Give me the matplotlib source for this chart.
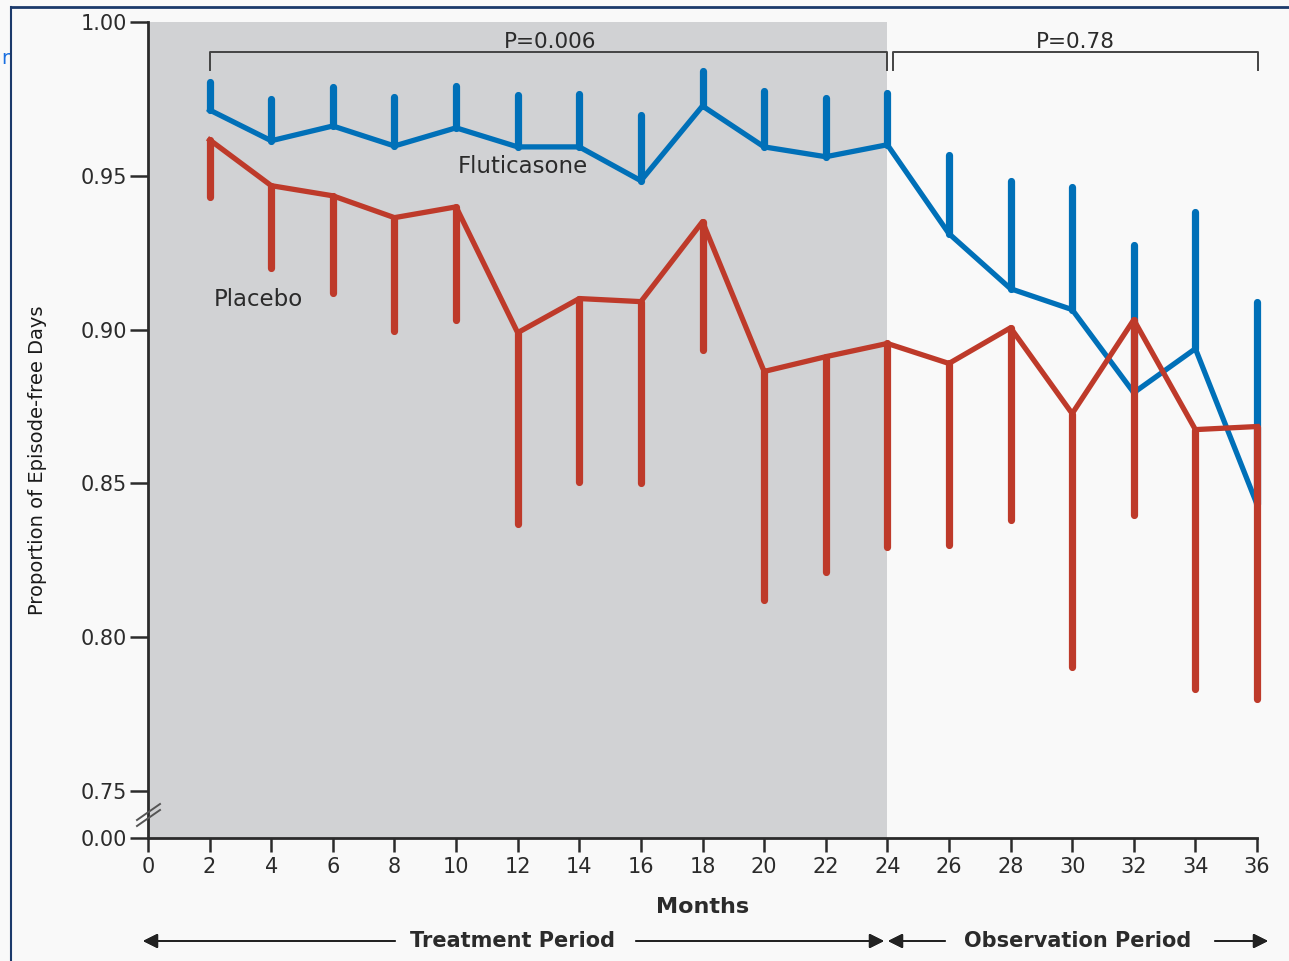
import matplotlib.pyplot as plt
from matplotlib.lines import Line2D
import numpy as np

plt.rcParams["font.family"] = "DejaVu Sans"

# months of follow-up
months = [2, 4, 6, 8, 10, 12, 14, 16, 18, 20, 22, 24, 26, 28, 30, 32, 34, 36]

# fluticasone: mean and upper limit of error bar
flut_mean = [0.9714, 0.9614, 0.9662, 0.9597, 0.9656, 0.9594, 0.9594, 0.9484, 0.9727,
             0.9594, 0.9562, 0.9601, 0.9312, 0.9133, 0.9065, 0.8795, 0.8938, 0.8432]
flut_upper = [0.9805, 0.9750, 0.9789, 0.9756, 0.9792, 0.9763, 0.9766, 0.9698, 0.9841,
              0.9776, 0.9753, 0.9769, 0.9568, 0.9484, 0.9464, 0.9276, 0.9383, 0.9091]

# placebo: mean and lower limit of error bar
plac_mean = [0.9617, 0.9468, 0.9435, 0.9364, 0.9399, 0.8990, 0.9101, 0.9091, 0.9351,
             0.8864, 0.8912, 0.8955, 0.8890, 0.9006, 0.8727, 0.9032, 0.8675, 0.8685]
plac_lower = [0.9432, 0.9201, 0.9120, 0.8997, 0.9032, 0.8367, 0.8506, 0.8500, 0.8935,
              0.8120, 0.8211, 0.8292, 0.8299, 0.8380, 0.7903, 0.8399, 0.7831, 0.7799]

ytick_vals = [0.75, 0.80, 0.85, 0.90, 0.95, 1.00]
ytick_labels = ["0.75", "0.80", "0.85", "0.90", "0.95", "1.00"]
xtick_vals = list(range(0, 37, 2))

# the broken axis: 0.00 sits a short gap below 0.75
y_zero = 0.75 - 47 / 3080

blue = "#0070b8"
red = "#be3a2a"
ink = "#2b2b2b"

W, H = 1289, 961
fig = plt.figure(figsize=(W / 100, H / 100), dpi=100, facecolor="#f9f9f9")
ax = fig.add_axes([148 / W, 1 - 838 / H, (1257 - 148) / W, (838 - 22) / H])
ax.set_facecolor("#f9f9f9")

ax.axvspan(0, 24, color="#d1d2d4", zorder=0, lw=0)

fm = np.array(flut_mean)
fu = np.array(flut_upper)
pm = np.array(plac_mean)
pl = np.array(plac_lower)

eb_f = ax.errorbar(months, fm, yerr=[np.zeros_like(fm), fu - fm], fmt="none",
                   ecolor=blue, elinewidth=5.2, capsize=0, zorder=3)
ax.plot(months, fm, color=blue, lw=3.8, solid_joinstyle="round", zorder=3, clip_on=False)
eb_p = ax.errorbar(months, pm, yerr=[pm - pl, np.zeros_like(pm)], fmt="none",
                   ecolor=red, elinewidth=5.2, capsize=0, zorder=4)
ax.plot(months, pm, color=red, lw=3.8, solid_joinstyle="round", zorder=4, clip_on=False)
for eb in (eb_f, eb_p):
    for col in eb[2]:
        col.set_clip_on(False)
        col.set_capstyle("round")

ax.text(10.05, 0.9529, "Fluticasone", fontsize=16.5, color=ink, va="center", ha="left", zorder=5)
ax.text(2.12, 0.9097, "Placebo", fontsize=16.5, color=ink, va="center", ha="left", zorder=5)

# significance brackets
yb, yl = 0.9903, 0.9845
ax.plot([2, 2, 24, 24], [yl, yb, yb, yl], color="#444444", lw=1.4, zorder=5)
ax.plot([24.17, 24.17, 36.03, 36.03], [yl, yb, yb, yl], color="#444444", lw=1.4, zorder=5,
        clip_on=False)
ax.text(13.05, 0.9935, "P=0.006", fontsize=15.5, color=ink, ha="center", va="center")
ax.text(30.1, 0.9935, "P=0.78", fontsize=15.5, color=ink, ha="center", va="center")

ax.set_xlim(0, 36)
ax.set_ylim(y_zero, 1.0)
ax.set_yticks([y_zero] + ytick_vals)
ax.set_yticklabels(["0.00"] + ytick_labels)
ax.set_xticks(xtick_vals)
ax.tick_params(axis="y", length=13, width=1.8, color=ink, labelsize=15, labelcolor=ink, pad=2)
ax.tick_params(axis="x", length=10, width=1.8, color=ink, labelsize=15, labelcolor=ink, pad=4)
for s in ["top", "right"]:
    ax.spines[s].set_visible(False)
for s in ["left", "bottom"]:
    ax.spines[s].set_linewidth(2)
    ax.spines[s].set_color(ink)

ax.set_xlabel("Months", fontsize=16, fontweight="bold", color=ink, labelpad=14)
fig.text(38 / W, 1 - 460 / H, "Proportion of Episode-free Days", rotation=90,
         fontsize=14, color="#1a1a1a", ha="center", va="center")


def px(x, y):
    return x / W, 1 - y / H


# axis break marks
for off in [0, 6]:
    (x0, y0), (x1, y1) = px(137, 826 - off), px(160, 810 - off)
    fig.add_artist(Line2D([x0, x1], [y0, y1], color="#555555", lw=1.4))

# period arrows
arrow = dict(arrowstyle="-|>", color="#222222", lw=1.3, mutation_scale=22,
             shrinkA=0, shrinkB=0)
ya = 941
for tail, head in [(395, 143), (636, 884), (945, 888), (1215, 1268)]:
    fig.add_artist(plt.annotate("", xy=px(head, ya), xytext=px(tail, ya),
                                xycoords="figure fraction", textcoords="figure fraction",
                                arrowprops=arrow))
fig.text(*px(513, ya), "Treatment Period", fontsize=15, fontweight="bold", color=ink,
         ha="center", va="center")
fig.text(*px(1078, ya), "Observation Period", fontsize=15, fontweight="bold", color=ink,
         ha="center", va="center")

# frame edges
fig.add_artist(Line2D([11 / W, 1], [1 - 7 / H] * 2, color="#1b3a6b", lw=2))
fig.add_artist(Line2D([11 / W] * 2, [0, 1 - 7 / H], color="#1b3a6b", lw=1.5))
fig.text(1 / W, 1 - 58 / H, "r", fontsize=14, color="#1a6fe0", ha="left", va="center")

fig.savefig("out.png", dpi=100, facecolor=fig.get_facecolor())
